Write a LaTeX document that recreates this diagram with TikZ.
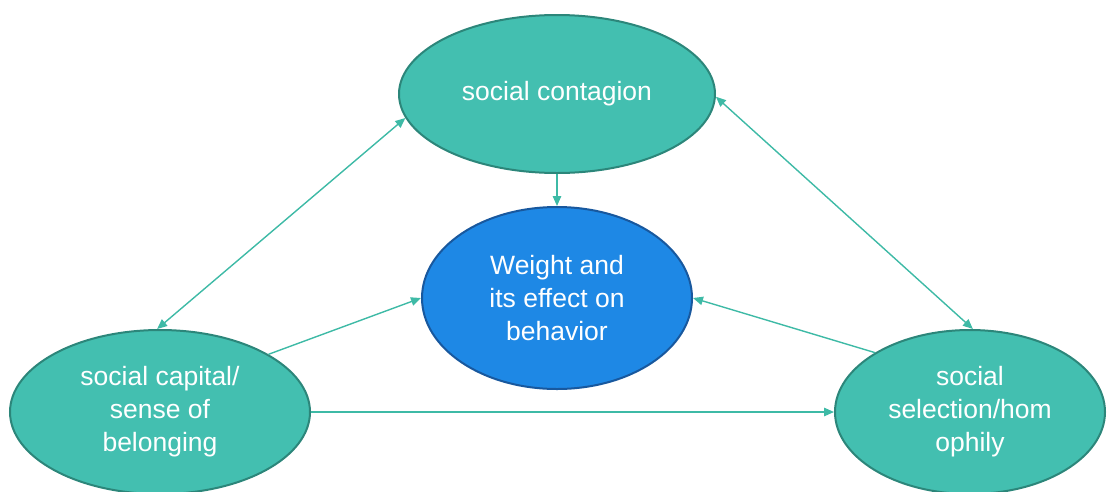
\documentclass[tikz,border=0pt]{standalone}
\usepackage{fontspec}
\setmainfont{Liberation Sans}
\usetikzlibrary{shapes.geometric,arrows.meta}
\definecolor{tealfill}{RGB}{67,191,176}
\definecolor{tealdraw}{RGB}{44,134,122}
\definecolor{bluefill}{RGB}{30,136,229}
\definecolor{bluedraw}{RGB}{24,88,158}
\definecolor{arrowcol}{RGB}{62,186,166}
\tikzset{
  bubble/.style={ellipse, fill=tealfill, draw=tealdraw, line width=2pt, inner sep=0pt,
    text=white, align=center, font=\fontsize{26.5}{33}\selectfont},
  core/.style={bubble, fill=bluefill, draw=bluedraw},
  link/.style={draw=arrowcol, line width=1.4pt, -{Triangle[length=10pt,width=8.5pt]}},
  dlink/.style={link, {Triangle[length=10pt,width=8.5pt]}-{Triangle[length=10pt,width=8.5pt]}}
}
\begin{document}
\begin{tikzpicture}[x=1pt,y=-1pt]
\useasboundingbox (0,0) rectangle (1109,491);
\node[bubble, minimum width=316pt, minimum height=158pt] (top) at (557,94) {social contagion};
\node[core, minimum width=270pt, minimum height=182pt] (mid) at (557,298) {Weight and\\its effect on\\behavior};
\node[bubble, minimum width=300pt, minimum height=164pt] (left) at (160,412) {social capital/\\sense of\\belonging};
\node[bubble, minimum width=270pt, minimum height=164pt] (right) at (970,412) {social\\selection/hom\\ophily};
\draw[dlink] (top.189) -- (left.92);
\draw[dlink] (top.-1) -- (right.88);
\draw[link] (top.south) -- (mid.north);
\draw[link] (left.28) -- (mid.west);
\draw[link] (right.148) -- (mid.east);
\draw[link] (left.east) -- (right.west);
\end{tikzpicture}
\end{document}
